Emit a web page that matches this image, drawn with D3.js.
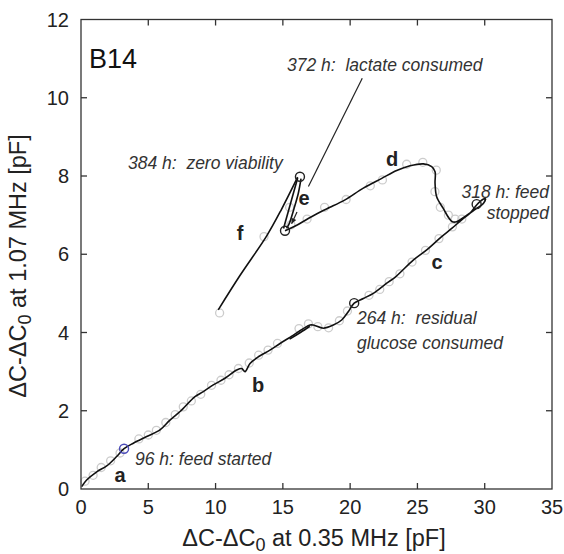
<!DOCTYPE html>
<html>
<head>
<meta charset="utf-8">
<script src="https://cdn.jsdelivr.net/npm/d3@7"></script>
<style>
  html, body { margin: 0; padding: 0; background: #fff; }
  svg { display: block; font-family: "Liberation Sans", Arial, Helvetica, sans-serif; }
  .note { font-style: italic; white-space: pre; fill: #333; }
  .seg { font-weight: bold; fill: #222; }
</style>
</head>
<body>
<svg id="chart" width="564" height="554"></svg>
<script>
(function () {
  'use strict';

  // main trajectory a -> b -> c -> loop -> d -> (lower e circle)
  var mainPath = [
    [0.05, 0.06], [0.42, 0.23], [1.17, 0.44], [1.91, 0.59], [2.65, 0.83], [3.2, 1.03],
    [3.89, 1.17], [4.88, 1.34], [5.87, 1.51], [6.61, 1.76], [7.36, 1.98], [7.6, 2.06],
    [8.47, 2.36], [9.09, 2.49], [9.83, 2.66], [10.7, 2.83], [11.57, 3.04], [11.94, 3.08],
    [12.19, 3.0], [12.56, 3.21], [13.18, 3.38], [14.04, 3.55], [14.79, 3.72], [15.45, 3.86],
    [17.02, 4.19], [17.26, 4.19], [18.01, 4.11], [18.75, 4.19], [19.37, 4.32], [19.86, 4.53],
    [20.3, 4.75], [20.98, 4.87], [21.72, 5.0], [22.72, 5.26], [23.4, 5.43], [24.69, 5.85],
    [25.69, 6.11], [26.8, 6.45], [27.55, 6.66], [28.29, 6.88], [28.91, 7.05], [29.4, 7.26],
    [29.85, 7.4], [30.05, 7.42], [29.9, 7.3], [29.3, 7.15], [28.6, 6.98], [27.9, 6.83],
    [27.6, 6.83], [27.35, 6.92], [26.92, 7.17], [26.43, 7.47], [26.31, 7.81], [26.31, 8.11],
    [26.06, 8.24], [25.44, 8.31], [24.45, 8.26], [23.46, 8.14], [22.35, 7.94], [20.98, 7.69],
    [19.62, 7.39], [18.5, 7.2], [18.0, 7.12], [16.92, 6.92], [15.92, 6.72], [15.16, 6.6]
  ];

  // short doubled stretch that looks thicker around 16-17 pF
  var overlapPath = [[15.5, 3.83], [16.3, 4.0], [17.0, 4.16]];

  // e: up to the zero-viability point and back down
  var eUp = [[15.05, 6.66], [16.1, 7.95]];
  var eDown = [[16.35, 7.93], [16.15, 7.56], [15.83, 7.17], [15.48, 6.79], [15.28, 6.66]];

  // f: after zero viability
  var fPath = [[10.2, 4.58], [11.8, 5.45], [13.8, 6.47], [14.9, 7.15], [16.1, 7.97]];

  // raw measurement points (light grey rings)
  var rawPts = [
    [0.3, 0.2], [0.9, 0.35], [1.5, 0.55], [2.2, 0.72], [2.9, 0.92], [4.3, 1.28], [5.0, 1.38],
    [5.6, 1.5], [6.3, 1.7], [7.0, 1.9], [7.6, 2.1], [8.2, 2.25], [8.9, 2.42], [9.7, 2.65],
    [10.4, 2.78], [11.0, 2.92], [11.7, 3.08], [12.5, 3.22], [13.2, 3.42], [13.9, 3.55],
    [14.6, 3.72], [16.2, 4.1], [16.9, 4.22], [17.6, 4.15], [18.4, 4.12], [19.2, 4.3],
    [19.8, 4.55], [21.4, 4.95], [22.2, 5.1], [22.9, 5.3], [23.7, 5.5], [24.6, 5.8],
    [25.6, 6.1], [26.6, 6.4], [27.6, 6.7], [28.3, 6.9], [27.8, 6.9], [27.3, 7.0],
    [26.7, 7.2], [26.3, 7.6], [26.4, 8.15], [25.4, 8.35], [24.2, 8.3], [22.4, 7.9],
    [21.5, 7.75], [19.7, 7.4], [18.1, 7.2], [16.8, 6.9], [15.6, 6.75], [15.5, 7.2],
    [13.6, 6.45], [10.3, 4.5]
  ];

  // marked time points
  var events = [
    { x: 3.2, y: 1.03, color: '#4a4ab8' },
    { x: 20.3, y: 4.75, color: '#222' },
    { x: 29.4, y: 7.28, color: '#222' },
    { x: 15.16, y: 6.6, color: '#222' },
    { x: 16.27, y: 7.98, color: '#222' }
  ];

  var xTicks = [0, 5, 10, 15, 20, 25, 30, 35];
  var yTicks = [0, 2, 4, 6, 8, 10, 12];

  var svg = d3.select('#chart');
  var left = 81, right = 552, top = 19.5, bottom = 489;

  var x = d3.scaleLinear().domain([0, 35]).range([left, right]);
  var y = d3.scaleLinear().domain([0, 12]).range([bottom, top]);

  var line = d3.line()
    .x(function (d) { return x(d[0]); })
    .y(function (d) { return y(d[1]); })
    .curve(d3.curveCatmullRom.alpha(0.5));

  // grey raw points first, underneath the curves
  svg.append('g')
    .selectAll('circle')
    .data(rawPts)
    .enter()
    .append('circle')
    .attr('cx', function (d) { return x(d[0]); })
    .attr('cy', function (d) { return y(d[1]); })
    .attr('r', 4)
    .attr('fill', 'none')
    .attr('stroke', '#cccccc')
    .attr('stroke-width', 1.3);

  var curves = svg.append('g')
    .attr('fill', 'none')
    .attr('stroke', '#111')
    .attr('stroke-width', 1.6)
    .attr('stroke-linejoin', 'round');

  [mainPath, overlapPath, eUp, eDown, fPath].forEach(function (p) {
    curves.append('path').attr('d', line(p));
  });

  svg.append('g')
    .selectAll('circle')
    .data(events)
    .enter()
    .append('circle')
    .attr('cx', function (d) { return x(d.x); })
    .attr('cy', function (d) { return y(d.y); })
    .attr('r', 4.5)
    .attr('fill', 'none')
    .attr('stroke', function (d) { return d.color; })
    .attr('stroke-width', 1.4);

  // frame with inward ticks on all four sides
  var frame = svg.append('g').attr('stroke', '#333').attr('stroke-width', 1.3);
  frame.append('rect')
    .attr('x', left).attr('y', top)
    .attr('width', right - left).attr('height', bottom - top)
    .attr('fill', 'none');

  var tickLen = 6;
  xTicks.slice(1, -1).forEach(function (t) {
    frame.append('line').attr('x1', x(t)).attr('x2', x(t)).attr('y1', bottom).attr('y2', bottom - tickLen);
    frame.append('line').attr('x1', x(t)).attr('x2', x(t)).attr('y1', top).attr('y2', top + tickLen);
  });
  yTicks.slice(1, -1).forEach(function (t) {
    frame.append('line').attr('y1', y(t)).attr('y2', y(t)).attr('x1', left).attr('x2', left + tickLen);
    frame.append('line').attr('y1', y(t)).attr('y2', y(t)).attr('x1', right).attr('x2', right - tickLen);
  });

  var labels = svg.append('g').attr('font-size', 20).attr('fill', '#222');
  labels.selectAll('.xt')
    .data(xTicks)
    .enter()
    .append('text')
    .attr('x', function (d) { return x(d); })
    .attr('y', bottom + 25)
    .attr('text-anchor', 'middle')
    .text(function (d) { return d; });
  labels.selectAll('.yt')
    .data(yTicks)
    .enter()
    .append('text')
    .attr('x', left - 12)
    .attr('y', function (d) { return y(d) + 7; })
    .attr('text-anchor', 'end')
    .text(function (d) { return d; });

  // axis titles with subscript 0
  function axisTitle(sel, rest) {
    sel.append('tspan').text('\u0394C-\u0394C');
    sel.append('tspan').attr('dy', 5).attr('font-size', 18).text('0');
    sel.append('tspan').attr('dy', -5).text(rest);
  }
  var xTitle = svg.append('text')
    .attr('x', 314).attr('y', 546)
    .attr('text-anchor', 'middle')
    .attr('font-size', 23.5).attr('fill', '#222');
  axisTitle(xTitle, ' at 0.35 MHz [pF]');

  var yTitle = svg.append('text')
    .attr('transform', 'translate(26,266) rotate(-90)')
    .attr('text-anchor', 'middle')
    .attr('font-size', 23.5).attr('fill', '#222');
  axisTitle(yTitle, ' at 1.07 MHz [pF]');

  svg.append('text')
    .attr('x', 89).attr('y', 68)
    .attr('font-size', 27).attr('fill', '#111')
    .text('B14');

  // annotations
  var notes = [
    { t: '372 h:  lactate consumed', px: 287, py: 71, anchor: 'start' },
    { t: '384 h:  zero viability', px: 128, py: 169, anchor: 'start' },
    { t: '318 h: feed', px: 549, py: 198, anchor: 'end' },
    { t: 'stopped', px: 549, py: 219, anchor: 'end' },
    { t: '264 h:  residual', px: 357, py: 324, anchor: 'start' },
    { t: 'glucose consumed', px: 357, py: 349, anchor: 'start' },
    { t: '96 h: feed started', px: 135, py: 465, anchor: 'start' }
  ];
  svg.append('g').attr('font-size', 17.5)
    .selectAll('text')
    .data(notes)
    .enter()
    .append('text')
    .attr('class', 'note')
    .attr('x', function (d) { return d.px; })
    .attr('y', function (d) { return d.py; })
    .attr('text-anchor', function (d) { return d.anchor; })
    .text(function (d) { return d.t; });

  // segment letters
  var segs = [
    { t: 'a', px: 120, py: 482 }, { t: 'b', px: 258, py: 392 }, { t: 'c', px: 437, py: 269 },
    { t: 'd', px: 392, py: 166 }, { t: 'e', px: 304, py: 205 }, { t: 'f', px: 240, py: 240 }
  ];
  svg.append('g').attr('font-size', 20)
    .selectAll('text')
    .data(segs)
    .enter()
    .append('text')
    .attr('class', 'seg')
    .attr('x', function (d) { return d.px; })
    .attr('y', function (d) { return d.py; })
    .attr('text-anchor', 'middle')
    .text(function (d) { return d.t; });

  // leader from "372 h" and the small arrow next to e
  svg.append('line')
    .attr('x1', x(20.9)).attr('y1', y(10.5))
    .attr('x2', x(16.9)).attr('y2', y(7.73))
    .attr('stroke', '#222').attr('stroke-width', 1.2);

  var ax1 = x(16.05), ay1 = y(7.08), ax2 = x(15.65), ay2 = y(6.78);
  svg.append('line')
    .attr('x1', ax1).attr('y1', ay1).attr('x2', ax2).attr('y2', ay2)
    .attr('stroke', '#222').attr('stroke-width', 1.2);
  var ang = Math.atan2(ay2 - ay1, ax2 - ax1);
  var hl = 6;
  svg.append('path')
    .attr('d', 'M' + ax2 + ',' + ay2 +
      'L' + (ax2 - hl * Math.cos(ang - 0.45)) + ',' + (ay2 - hl * Math.sin(ang - 0.45)) +
      'L' + (ax2 - hl * Math.cos(ang + 0.45)) + ',' + (ay2 - hl * Math.sin(ang + 0.45)) + 'Z')
    .attr('fill', '#222');
})();
</script>
</body>
</html>
